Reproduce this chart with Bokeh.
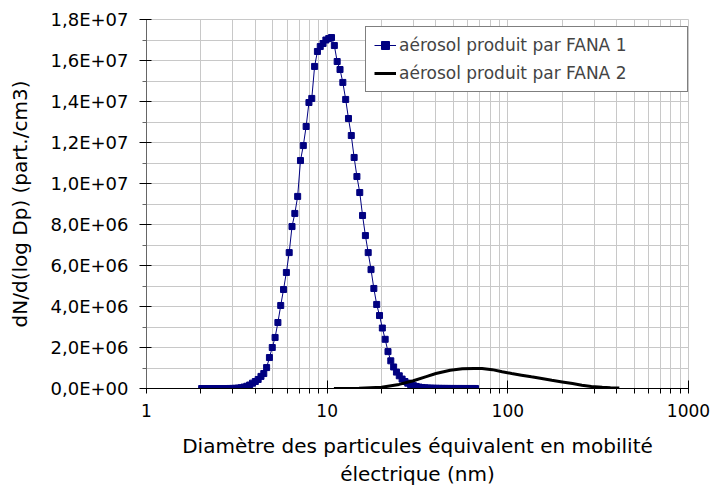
from bokeh.plotting import figure
from bokeh.models import FixedTicker, CustomJSTickFormatter, Legend, LegendItem, Range1d
from bokeh.embed import file_html
from bokeh.resources import INLINE

# ---- data ----
# FANA 1 : SMPS channel diameters (nm), 64 channels / decade
d1 = [2.02, 2.094, 2.171, 2.250, 2.333, 2.418, 2.507, 2.599, 2.694, 2.793,
      2.895, 3.001, 3.111, 3.225, 3.343, 3.466, 3.593, 3.724, 3.861, 4.002,
      4.149, 4.301, 4.459, 4.622, 4.791, 4.967, 5.149, 5.337, 5.533, 5.735,
      5.945, 6.163, 6.389, 6.623, 6.866, 7.117, 7.378, 7.648, 7.928, 8.219,
      8.520, 8.832, 9.155, 9.491, 9.838, 10.20, 10.57, 10.96, 11.36, 11.78,
      12.21, 12.66, 13.12, 13.60, 14.10, 14.61, 15.15, 15.70, 16.28, 16.87,
      17.49, 18.13, 18.80, 19.49, 20.20, 20.94, 21.71, 22.50, 23.33, 24.18,
      25.07, 25.99, 26.94, 27.93, 28.95, 30.01, 31.11, 32.25, 33.43, 34.66,
      35.93, 37.24, 38.61, 40.02, 41.49, 43.01, 44.59, 46.22, 47.91, 49.67,
      51.49, 53.37, 55.33, 57.35, 59.45, 61.63, 63.89, 66.23]
n1 = [0, 0, 0, 0, 0, 0, 0, 0, 0, 0,
      2e3, 5e3, 1e4, 2e4, 4e4, 7e4, 1.1e5, 1.7e5, 2.6e5, 3.4e5,
      4.4e5, 5.9e5, 7.3e5, 1.02e6, 1.51e6, 2.00e6, 2.49e6, 3.22e6, 4.05e6, 4.83e6,
      5.66e6, 6.63e6, 7.90e6, 8.54e6, 9.37e6, 1.112e7, 1.185e7, 1.278e7, 1.395e7, 1.415e7,
      1.571e7, 1.644e7, 1.668e7, 1.683e7, 1.700e7, 1.707e7, 1.712e7, 1.673e7, 1.595e7, 1.556e7,
      1.493e7, 1.410e7, 1.317e7, 1.234e7, 1.127e7, 1.034e7, 9.56e6, 8.44e6, 7.46e6, 6.63e6,
      5.80e6, 4.88e6, 4.10e6, 3.56e6, 2.95e6, 2.40e6, 1.80e6, 1.35e6, 1.05e6, 8.0e5,
      6.2e5, 4.6e5, 3.4e5, 2.6e5, 1.9e5, 1.4e5, 1.0e5, 7e4, 5e4, 3.5e4,
      2.5e4, 1.8e4, 1.3e4, 1e4, 8e3, 6e3, 5e3, 4e3, 3e3, 3e3,
      2e3, 2e3, 2e3, 1e3, 1e3, 1e3, 1e3, 1e3]

# FANA 2
d2 = [10.9, 15, 20, 25, 30, 35, 40, 48, 56, 65, 72, 82, 93, 105, 119, 135,
      154, 175, 200, 228, 257, 290, 333, 370, 414]
n2 = [0, 1e4, 6e4, 2.0e5, 3.8e5, 5.7e5, 7.3e5, 8.9e5, 9.6e5, 9.8e5, 9.75e5,
      9.2e5, 8.2e5, 7.3e5, 6.5e5, 5.7e5, 4.9e5, 4.0e5, 3.2e5, 2.4e5, 1.6e5,
      1.0e5, 6e4, 4e4, 3e4]

labels = ["aérosol produit par FANA 1", "aérosol produit par FANA 2"]
x_title = "Diamètre des particules équivalent en mobilité\nélectrique (nm)"
y_title = "dN/d(log Dp) (part./cm3)"
x_major = [1, 10, 100, 1000]
x_minor = [2, 3, 4, 5, 6, 7, 8, 9, 20, 30, 40, 50, 60, 70, 80, 90,
           200, 300, 400, 500, 600, 700, 800, 900]
y_major = [0, 2e6, 4e6, 6e6, 8e6, 1e7, 1.2e7, 1.4e7, 1.6e7, 1.8e7]
y_minor = [1e6, 3e6, 5e6, 7e6, 9e6, 1.1e7, 1.3e7, 1.5e7, 1.7e7]

FONT = "DejaVu Sans"
GRID = "#c8c8c8"

p = figure(frame_width=542, frame_height=369, x_axis_type="log",
           x_range=Range1d(1, 1000), y_range=Range1d(0, 1.8e7),
           output_backend="svg", toolbar_location=None,
           min_border_left=146, min_border_right=25, min_border_top=19,
           min_border_bottom=98)
p.outline_line_color = GRID
p.background_fill_color = "white"

r1l = p.line(d1, n1, line_color="#000080", line_width=1)
r1m = p.scatter(d1, n1, marker="square", size=6, fill_color="#000080",
                line_color="#000080")
r2 = p.line(d2, n2, line_color="black", line_width=3)

# axes
xa = p.xaxis[0]
xa.ticker = FixedTicker(ticks=x_major, minor_ticks=x_minor)
xa.formatter = CustomJSTickFormatter(code="return String(Math.round(tick));")
xa.axis_line_color = "black"
xa.major_tick_line_color = "black"
xa.minor_tick_line_color = "black"
xa.major_tick_in = 8
xa.major_tick_out = 5
xa.minor_tick_in = 0
xa.minor_tick_out = 5
xa.major_label_standoff = 10
xa.axis_label = x_title
xa.axis_label_standoff = 14

ya = p.yaxis[0]
ya.ticker = FixedTicker(ticks=y_major, minor_ticks=y_minor)
ya.formatter = CustomJSTickFormatter(code="""
if (tick === 0) return "0,0E+00";
const e = Math.floor(Math.log10(Math.abs(tick)) + 1e-9);
const m = tick / Math.pow(10, e);
return m.toFixed(1).replace(".", ",") + "E" + (e < 0 ? "-" : "+") + String(Math.abs(e)).padStart(2, "0");
""")
ya.axis_line_color = "#666666"
ya.major_tick_line_color = "black"
ya.minor_tick_line_color = "#666666"
ya.major_tick_in = 5
ya.major_tick_out = 7
ya.minor_tick_in = 0
ya.minor_tick_out = 4
ya.major_label_standoff = 11
ya.axis_label = y_title
ya.axis_label_standoff = 16

for ax, sz in ((xa, "17px"), (ya, "18px")):
    ax.major_label_text_font = FONT
    ax.major_label_text_font_size = sz
    ax.major_label_text_color = "black"
    ax.axis_label_text_font = FONT
    ax.axis_label_text_font_size = "20px"
    ax.axis_label_text_font_style = "normal"
    ax.axis_label_text_color = "black"

for g in (p.xgrid[0], p.ygrid[0]):
    g.grid_line_color = GRID
    g.minor_grid_line_color = GRID
    g.grid_line_width = 1
    g.minor_grid_line_width = 1

legend = Legend(items=[LegendItem(label=labels[0], renderers=[r1l, r1m]),
                       LegendItem(label=labels[1], renderers=[r2])],
                location=(219, 296), padding=8, spacing=8, margin=0,
                glyph_width=22, glyph_height=20, label_height=20,
                label_standoff=3, label_width=280,
                label_text_font=FONT, label_text_font_size="17px",
                border_line_color="black", border_line_width=1,
                background_fill_color="white", background_fill_alpha=1)
p.add_layout(legend)

open("out.html", "w").write(file_html(p, INLINE))
